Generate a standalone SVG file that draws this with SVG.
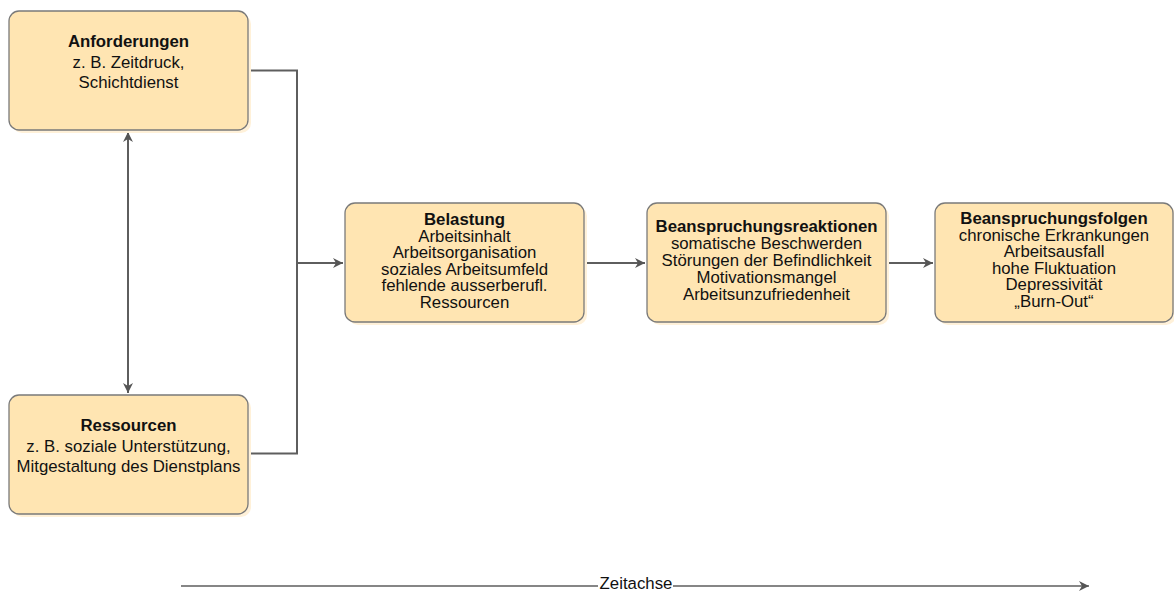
<svg xmlns="http://www.w3.org/2000/svg" width="1174" height="592" viewBox="0 0 1174 592">
<style>
.box{fill:#FFE5B2;stroke:#7a7a7a;stroke-width:1.3}
.sh{fill:#FFF1D9;stroke:none}
.t{font-family:"Liberation Sans",Arial,sans-serif;font-size:16.8px;fill:#111;text-anchor:middle}
.b{font-weight:bold}
.c{fill:none;stroke:#5e5e5e;stroke-width:2}
</style>
<defs>
<marker id="ah" markerUnits="userSpaceOnUse" markerWidth="12" markerHeight="12" refX="10" refY="5" orient="auto-start-reverse" viewBox="0 0 12 10">
<path d="M0,0 L10,5 L0,10 L3,5 Z" fill="#555"/>
</marker>
</defs>
<rect width="1174" height="592" fill="#fff"/>
<g id="connectors">
<path class="c" d="M248,70.5 H297 V453.5 H248"/>
<path class="c" d="M297,263 H343" marker-end="url(#ah)"/>
<path class="c" d="M128,132 V393" marker-start="url(#ah)" marker-end="url(#ah)"/>
<path class="c" d="M584,263 H645" marker-end="url(#ah)"/>
<path class="c" d="M886,263 H933" marker-end="url(#ah)"/>
<path class="c" d="M181,586 H598" style="stroke-width:1.5"/>
<path class="c" d="M673,586 H1089" style="stroke-width:1.5" marker-end="url(#ah)"/>
</g>
<g id="anforderungen">
<rect class="sh" x="12" y="14" width="239" height="119" rx="10"/>
<rect class="box" x="9" y="11" width="239" height="119" rx="10"/>
<text class="t b" x="128.5" y="47">Anforderungen</text>
<text class="t" x="128.5" y="67.5">z. B. Zeitdruck,</text>
<text class="t" x="128.5" y="88">Schichtdienst</text>
</g>
<g id="ressourcen">
<rect class="sh" x="12" y="398" width="239" height="119" rx="10"/>
<rect class="box" x="9" y="395" width="239" height="119" rx="10"/>
<text class="t b" x="128.5" y="431">Ressourcen</text>
<text class="t" x="128.5" y="451.5">z. B. soziale Unterstützung,</text>
<text class="t" x="128.5" y="472">Mitgestaltung des Dienstplans</text>
</g>
<g id="belastung">
<rect class="sh" x="348" y="206" width="239" height="119" rx="10"/>
<rect class="box" x="345" y="203" width="239" height="119" rx="10"/>
<text class="t b" x="464.5" y="225">Belastung</text>
<text class="t" x="464.5" y="241.6">Arbeitsinhalt</text>
<text class="t" x="464.5" y="258.2">Arbeitsorganisation</text>
<text class="t" x="464.5" y="274.8">soziales Arbeitsumfeld</text>
<text class="t" x="464.5" y="291.4">fehlende ausserberufl.</text>
<text class="t" x="464.5" y="308">Ressourcen</text>
</g>
<g id="reaktionen">
<rect class="sh" x="650" y="206" width="239" height="119" rx="10"/>
<rect class="box" x="647" y="203" width="239" height="119" rx="10"/>
<text class="t b" x="766.5" y="232">Beanspruchungsreaktionen</text>
<text class="t" x="766.5" y="249">somatische Beschwerden</text>
<text class="t" x="766.5" y="266">Störungen der Befindlichkeit</text>
<text class="t" x="766.5" y="283">Motivationsmangel</text>
<text class="t" x="766.5" y="300">Arbeitsunzufriedenheit</text>
</g>
<g id="folgen">
<rect class="sh" x="938" y="206" width="238" height="119" rx="10"/>
<rect class="box" x="935" y="203" width="238" height="119" rx="10"/>
<text class="t b" x="1054" y="224">Beanspruchungsfolgen</text>
<text class="t" x="1054" y="240.6">chronische Erkrankungen</text>
<text class="t" x="1054" y="257.2">Arbeitsausfall</text>
<text class="t" x="1054" y="273.8">hohe Fluktuation</text>
<text class="t" x="1054" y="290.4">Depressivität</text>
<text class="t" x="1054" y="307">„Burn-Out“</text>
</g>
<g id="zeitachse">
<text class="t" x="636" y="589">Zeitachse</text>
</g>
</svg>
